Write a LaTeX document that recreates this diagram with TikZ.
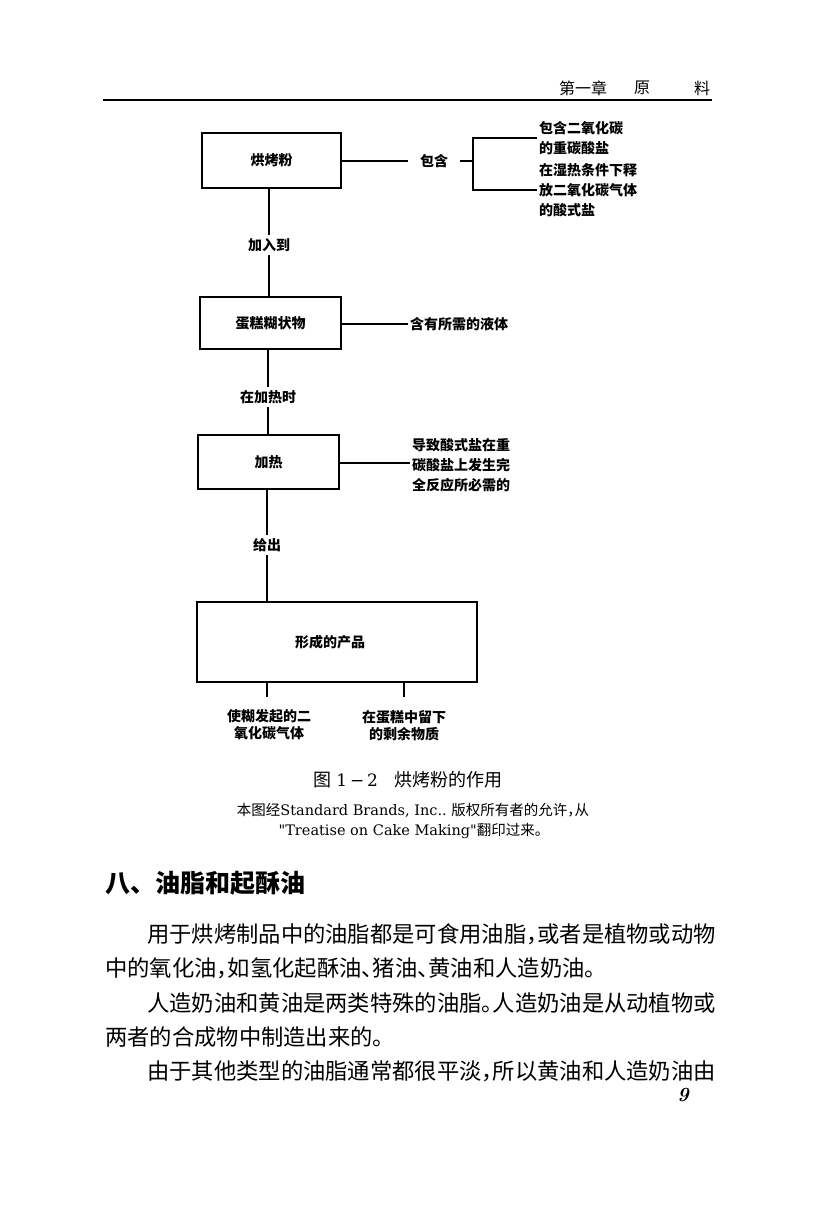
\documentclass[tikz,border=0pt]{standalone}
\usepackage{fontspec}
\newfontfamily\cjk{Noto Sans CJK SC}
\newfontfamily\capfont{DejaVu Serif}
\usetikzlibrary{positioning}
\newcommand\hp[1]{\makebox[0.5em][l]{#1}}
\tikzset{%
  base/.style = {rectangle, draw = black, line width = 1.3pt, inner sep = 0pt, font = \cjk\bfseries\fontsize{14}{16}\selectfont},
  link/.style = {line width = 1.7pt},
  tag/.style = {font = \cjk\bfseries\fontsize{14}{16}\selectfont, inner xsep = 1pt, inner ysep = 3pt},
  note/.style = {font = \cjk\bfseries\fontsize{14}{20}\selectfont, align = left, anchor = west, inner sep = 2pt},
  foot/.style = {font = \cjk\bfseries\fontsize{14}{17}\selectfont, align = center, inner sep = 1pt},
  body/.style = {font = \cjk\fontsize{22.3}{26}\selectfont, anchor = west, inner sep = 0pt},
  head/.style = {font = \cjk\fontsize{16}{18}\selectfont, inner sep = 0pt},
  source/.style = {font = \capfont\fontsize{14.5}{17}\selectfont, inner sep = 0pt}
}
\begin{document}
\begin{tikzpicture}[x=1pt, y=-1pt]
  \fill[white] (0,0) rectangle (835,1205);
  \useasboundingbox (0,0) rectangle (835,1205);
  % running head
  \node[head] (chap) at (583,88) {第一章};
  \node[head] (yuan) at (642,88) {原};
  \node[head] (liao) at (702,88) {料};
  \draw[line width = 1.8pt] (103,100) -- (712,100);
  % boxes
  \node[base, minimum width = 139pt, minimum height = 55pt] (bake) at (271.5,160.5) {烘烤粉};
  \node[base, minimum width = 141pt, minimum height = 52pt] (batter) at (270.5,323) {蛋糕糊状物};
  \node[base, minimum width = 141pt, minimum height = 54pt] (heat) at (268.5,462) {加热};
  \node[base, minimum width = 280pt, minimum height = 80pt] (prod) at (337,642) {\hspace*{-14pt}形成的产品};
  % labels on the main line
  \node[tag] (addto) at (269,245) {加入到};
  \node[tag] (whenhot) at (268,397) {在加热时};
  \node[tag] (gives) at (267,545) {给出};
  \draw[link] (addto.north |- bake.south) -- (addto.north);
  \draw[link] (addto.south) -- (addto.south |- batter.north);
  \draw[link] (whenhot.north |- batter.south) -- (whenhot.north);
  \draw[link] (whenhot.south) -- (whenhot.south |- heat.north);
  \draw[link] (gives.north |- heat.south) -- (gives.north);
  \draw[link] (gives.south) -- (gives.south |- prod.north);
  % side branches
  \node[tag, inner xsep = 12pt] (contain) at (434,161) {包含};
  \coordinate (brk) at (473,161);
  \node[note] (co2) at (537,138) {包含二氧化碳\\的重碳酸盐};
  \node[note] (acid) at (537,190) {在湿热条件下释\\放二氧化碳气体\\的酸式盐};
  \draw[link] (bake.east |- contain) -- (contain.west);
  \draw[link] (contain.east) -- (brk);
  \draw[link] (co2.west) -| (brk) |- (acid.west);
  \node[note] (liquid) at (408,324) {含有所需的液体};
  \draw[link] (batter.east |- liquid) -- (liquid.west);
  \node[note] (need) at (410,465) {导致酸式盐在重\\碳酸盐上发生完\\全反应所必需的};
  \draw[link] (heat.east |- 0,463) -- (need.west |- 0,463);
  % results
  \node[foot] (gas) at (269,725) {使糊发起的二\\氧化碳气体};
  \node[foot] (rest) at (404,726) {在蛋糕中留下\\的剩余物质};
  \coordinate (gastop) at (267,697);
  \coordinate (resttop) at (404,697);
  \draw[link] (gastop |- prod.south) -- (gastop);
  \draw[link] (resttop |- prod.south) -- (resttop);
  % caption
  \node[source, font = \capfont\fontsize{17}{20}\selectfont] (cap) at (408,780) {{\cjk\fontsize{18}{20}\selectfont 图}\ 1\thinspace−\thinspace2\quad{\cjk\fontsize{18}{20}\selectfont 烘烤粉的作用}};
  \node[source] (src) at (413,810) {{\cjk\fontsize{14.5}{17}\selectfont 本图经}Standard Brands, Inc..\ {\cjk\fontsize{14.5}{17}\selectfont 版权所有者的允许\hp{，}从}};
  \node[source] (src2) at (414,831) {"Treatise on Cake Making"{\cjk\fontsize{14.5}{17}\selectfont 翻印过来。}};
  % section text
  \node[font = \cjk\bfseries\fontsize{25}{28}\selectfont, anchor = west, inner sep = 0pt] (sect) at (105,883) {八、油脂和起酥油};
  \node[body] (p1) at (147,934) {用于烘烤制品中的油脂都是可食用油脂\hp{，}或者是植物或动物};
  \node[body] (p2) at (105,968) {中的氧化油\hp{，}如氢化起酥油\hp{、}猪油\hp{、}黄油和人造奶油\hp{。}};
  \node[body] (p3) at (147,1003) {人造奶油和黄油是两类特殊的油脂\hp{。}人造奶油是从动植物或};
  \node[body] (p4) at (105,1037) {两者的合成物中制造出来的\hp{。}};
  \node[body] (p5) at (147,1071) {由于其他类型的油脂通常都很平淡\hp{，}所以黄油和人造奶油由};
  \node[font = \bfseries\itshape\fontsize{20}{22}\selectfont, inner sep = 0pt] (page) at (683,1095) {9};
\end{tikzpicture}
\end{document}
